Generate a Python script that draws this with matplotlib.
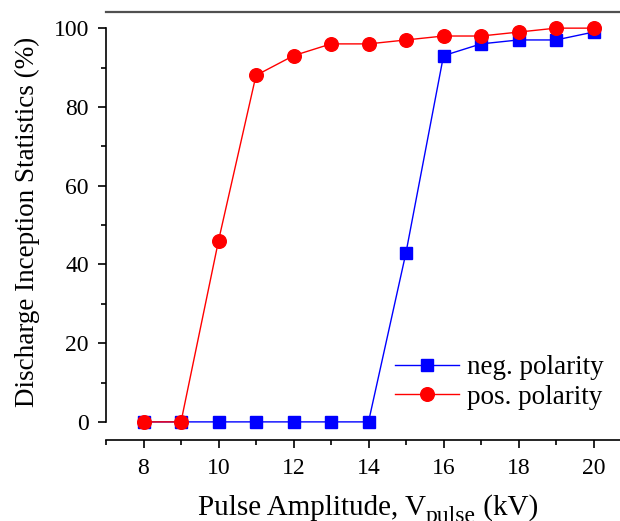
import matplotlib
matplotlib.use("Agg")
import matplotlib.pyplot as plt
from matplotlib.ticker import MultipleLocator

plt.rcParams['font.family'] = ['Liberation Serif', 'DejaVu Serif']

# pulse amplitude (kV) and inception statistics (%)
amplitude = [8, 9, 10, 11, 12, 13, 14, 15, 16, 17, 18, 19, 20]
neg_stat = [0, 0, 0, 0, 0, 0, 0, 43, 93, 96, 97, 97, 99]
pos_stat = [0, 0, 46, 88, 93, 96, 96, 97, 98, 98, 99, 100, 100]

W, H = 620, 521
fig = plt.figure(figsize=(W / 100, H / 100), dpi=100)
ax = fig.add_axes([106 / W, 81 / H, 525 / W, 428 / H])

ax.plot(amplitude, neg_stat, color='#0000ff', lw=1.0, marker='s', ms=8,
        label='neg. polarity', zorder=3)
ax.plot(amplitude, pos_stat, color='#ff0000', lw=1.0, marker='o', ms=9.8,
        label='pos. polarity', zorder=4)

ax.set_xlim(7, 21)
ax.set_ylim(-4.6, 104.1)
ax.xaxis.set_major_locator(MultipleLocator(2))
ax.xaxis.set_minor_locator(MultipleLocator(1))
ax.yaxis.set_major_locator(MultipleLocator(20))
ax.yaxis.set_minor_locator(MultipleLocator(10))

ax.spines['right'].set_visible(False)
ax.spines['left'].set_bounds(0, 100)
ax.spines['left'].set_linewidth(1.2)
ax.spines['bottom'].set_linewidth(1.2)
ax.spines['top'].set_linewidth(1.6)
ax.spines['top'].set_color('#505050')

ax.tick_params(which='major', direction='out', length=5.8, width=1.2, labelsize=17)
ax.tick_params(which='minor', direction='out', length=3.6, width=1.2)
ax.tick_params(axis='y', which='major', pad=6.5)
ax.tick_params(axis='x', which='major', pad=7)
ax.tick_params(top=False, right=False, which='both')

ax.set_ylabel('Discharge Inception Statistics (%)', fontsize=19.5)
ax.yaxis.set_label_coords(-0.125, 0.509)

# x label with a full-size subscript, laid out piece by piece
renderer = fig.canvas.get_renderer()
parts = [('Pulse Amplitude, V', 21, 0), ('pulse', 17, -7), (' (kV)', 21, 0)]
texts = []
x = 0.0
for s, size, dy in parts:
    t = fig.text(0, 0, s, fontsize=size, va='baseline', ha='left')
    w = t.get_window_extent(renderer).width
    texts.append((t, x, dy))
    x += w
left = 368 - x / 2
base = H - 515
for t, xo, dy in texts:
    t.set_position(((left + xo) / W, (base + dy) / H))

leg = ax.legend(loc='center left', bbox_to_anchor=(395 / W, 1 - 382.5 / H),
                bbox_transform=fig.transFigure, frameon=False, fontsize=19.5,
                handlelength=2.35, handletextpad=0.3, labelspacing=0.17,
                borderpad=0, borderaxespad=0)

fig.savefig('out.png', dpi=100)
